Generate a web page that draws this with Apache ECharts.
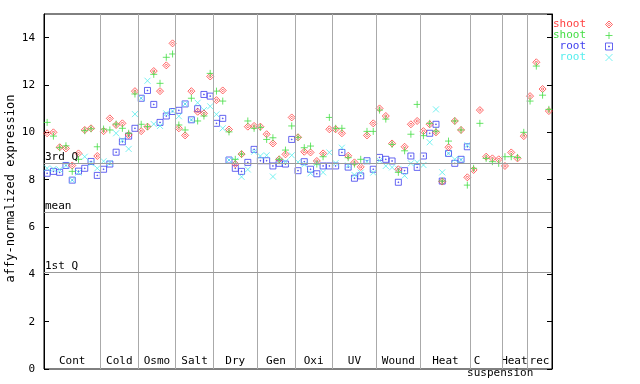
<!DOCTYPE html>
<html><head><meta charset="utf-8">
<script src="https://cdn.jsdelivr.net/npm/echarts@6/dist/echarts.min.js"></script>
<style>html,body{margin:0;padding:0;background:#fff}#c{width:640px;height:384px}</style>
</head><body><div id="c"></div>
<script>
// ---- data ----
const groupNames = ['Cont','Cold','Osmo','Salt','Dry','Gen','Oxi','UV','Wound','Heat','C','Heat','rec'];
const groupSizes = [9,6,6,6,7,6,6,7,7,8,5,4,4];
const shoot1 = [9.96,10.0,9.37,9.32,8.6,9.11,10.1,10.17,9.0,
  10.05,10.59,10.31,10.38,9.89,11.74,
  10.05,10.24,12.59,11.74,12.83,13.76,
  10.17,9.87,11.74,10.87,10.8,12.36,
  11.36,11.77,10.12,8.66,9.08,10.24,10.27,
  10.24,9.92,9.53,8.86,9.07,10.63,
  9.79,9.18,9.15,8.79,9.11,10.13,
  10.13,9.96,9.01,8.73,8.54,9.87,10.38,
  11.01,10.69,9.53,8.44,9.39,10.34,10.48,
  10.05,10.34,10.0,7.92,9.37,10.48,10.1,8.1,
  8.41,10.94,8.97,8.9,8.86,
  8.58,9.15,8.9,9.84,
  11.53,12.96,11.83,10.9];
const shoot2 = [10.42,9.84,9.35,9.43,8.35,8.86,10.07,10.15,9.39,
  10.14,10.1,10.35,10.17,9.96,11.62,
  10.34,10.24,12.45,12.07,13.17,13.31,
  10.31,10.1,11.44,10.48,10.69,12.49,
  11.74,11.32,10.02,8.86,9.08,10.48,10.17,
  10.21,9.7,9.77,8.86,9.25,10.27,
  9.79,9.35,9.42,8.66,8.97,10.63,
  10.17,10.17,8.93,8.66,8.86,10.04,10.04,
  10.94,10.56,9.49,8.31,9.22,9.92,11.18,
  9.86,10.38,10.05,7.94,9.63,10.48,10.1,7.77,
  8.48,10.38,8.9,8.76,8.69,
  8.97,8.97,8.94,10.0,
  11.32,12.8,11.57,10.97];
const root1 = [8.27,8.35,8.31,8.6,7.98,8.36,8.48,8.77,8.18,
  8.44,8.66,9.16,9.6,9.84,10.17,
  11.44,11.77,11.18,10.42,10.69,10.88,
  10.93,11.2,10.53,11.0,11.6,11.53,
  10.38,10.59,8.83,8.48,8.35,8.73,9.28,
  8.8,8.8,8.58,8.69,8.66,9.7,
  8.38,8.76,8.44,8.25,8.58,8.58,
  8.58,9.15,8.53,8.06,8.16,8.8,8.44,
  8.94,8.86,8.79,7.89,8.38,9.0,8.52,
  9.0,9.96,10.34,7.94,9.11,8.69,8.86,9.39,
  null,null,null,null,null,
  null,null,null,null,
  null,null,null,null];
const root2 = [8.48,8.45,8.42,8.6,7.98,8.3,8.97,8.69,8.48,
  8.78,8.7,9.96,9.67,9.3,10.77,
  11.44,12.18,10.35,10.27,10.8,10.9,
  10.68,11.2,10.53,11.25,10.94,11.1,
  10.76,10.17,8.83,8.8,8.12,8.43,9.18,
  9.0,9.03,8.13,8.8,8.76,9.03,
  8.74,8.64,8.27,8.7,8.31,9.15,
  8.7,9.35,8.6,8.2,8.3,8.76,8.3,
  8.8,8.58,8.52,8.45,8.17,8.69,8.73,
  8.62,9.58,10.97,8.31,9.11,8.86,8.84,9.46,
  null,null,null,null,null,
  null,null,null,null,
  null,null,null,null];
const quartileNames = ['3rd Q','mean','1st Q'];
const quartileValues = [8.69, 6.62, 4.08];
const yTickInterval = 2;

// ---- build ----
const FONT = 'DejaVu Sans Mono';
const RED = '#ff4040', GREEN = '#44dd44', BLUE = '#4040ee', CYAN = '#55eeee';
function pts(arr){ const out=[]; arr.forEach((v,i)=>{ if(v!==null) out.push([i+0.5, v]); }); return out; }

const bounds = []; let acc = 0;
const areas = [];
groupSizes.forEach((n, gi) => {
  const start = acc; acc += n;
  if (gi < groupSizes.length - 1) bounds.push(acc);
  const lbl = {show:true, position:'insideBottom', distance:2, offset:[0,0], color:'#000', fontFamily:FONT, fontSize:11};
  if (groupNames[gi] === 'C') {
    areas.push([{xAxis:start, name:'C', label:Object.assign({}, lbl, {offset:[-9,0]})}, {xAxis:acc}]);
    areas.push([{xAxis:start, name:'suspension', label:Object.assign({}, lbl, {offset:[14,12]})}, {xAxis:acc}]);
  } else {
    areas.push([{xAxis:start, name:groupNames[gi], label:lbl}, {xAxis:acc}]);
  }
});
const total = acc;

const mlData = bounds.map(b => ({xAxis:b, label:{show:false}, lineStyle:{color:'#aaaaaa', width:1, type:'solid'}}));
quartileNames.forEach((nm, k) => {
  mlData.push({yAxis:quartileValues[k], name:nm,
    label:{show:true, formatter:nm, position:'insideStartTop', distance:[1,1], color:'#000', fontFamily:FONT, fontSize:11},
    lineStyle:{color:'#999999', width:1, type:'solid'}});
});

const symDiamond = 'path://M4,0L8,4L4,8L0,4ZM4,2.5L5.5,4L4,5.5L2.5,4Z';
const symPlus = 'path://M0,4H8M4,0V8';
const symSquare = 'path://M0,0H8V8H0ZM3.5,3.5H4.5V4.5H3.5Z';
const symCross = 'path://M0,0L8,8M8,0L0,8';

function sc(name, data, sym, size, col){
  return {type:'scatter', name, data:pts(data), symbol:sym, symbolSize:size, silent:true,
    itemStyle:{color:'transparent', borderColor:col, borderWidth:1}, emphasis:{disabled:true}};
}

const chart = echarts.init(document.getElementById('c'), null, {renderer:'canvas'});
chart.setOption({
  animation:false,
  backgroundColor:'#fff',
  grid:{left:44, right:88, top:14, bottom:15, show:true, borderColor:'#000', borderWidth:1,
    backgroundColor:'transparent', outerBoundsMode:'none', containLabel:false},
  xAxis:{type:'value', min:0, max:total, axisLine:{show:false}, axisTick:{show:false}, axisLabel:{show:false}, splitLine:{show:false}},
  yAxis:[
    {type:'value', min:0, max:15, interval:yTickInterval, position:'left',
      axisLine:{show:true, lineStyle:{color:'#000', width:1}},
      axisTick:{show:true, inside:true, length:5, lineStyle:{color:'#000'}},
      axisLabel:{margin:9, color:'#000', fontFamily:FONT, fontSize:11, showMaxLabel:false},
      splitLine:{show:false},
      name:'affy-normalized expression', nameLocation:'middle', nameGap:27, nameMoveOverlap:false,
      nameTextStyle:{color:'#000', fontFamily:FONT, fontSize:12, padding:[0,0,0,6]}},
    {type:'value', min:0, max:15, interval:yTickInterval, position:'right',
      axisLine:{show:true, lineStyle:{color:'#000', width:1}},
      axisTick:{show:true, inside:true, length:5, lineStyle:{color:'#000'}},
      axisLabel:{show:false}, splitLine:{show:false}}
  ],
  legend:{orient:'vertical', right:22, top:14, align:'right', itemWidth:36, itemHeight:7, itemGap:0,
    selectedMode:false,
    itemStyle:{borderWidth:1},
    textStyle:{fontFamily:FONT, fontSize:11},
    data:[
      {name:'shoot', textStyle:{color:RED}},
      {name:'shoot\u200b', textStyle:{color:GREEN}},
      {name:'root', textStyle:{color:BLUE}},
      {name:'root\u200b', textStyle:{color:CYAN}}
    ]},
  series:[
    {type:'scatter', name:'_markers', data:[], silent:true, clip:false,
      markLine:{silent:true, symbol:['none','none'], animation:false, data:mlData},
      markArea:{silent:true, itemStyle:{color:'transparent'}, data:areas}},
    sc('root', root1, symSquare, 6, BLUE),
    sc('root\u200b', root2, symCross, 6, CYAN),
    sc('shoot', shoot1, symDiamond, 7, RED),
    sc('shoot\u200b', shoot2, symPlus, 7, GREEN)
  ]
});
</script>
</body></html>
